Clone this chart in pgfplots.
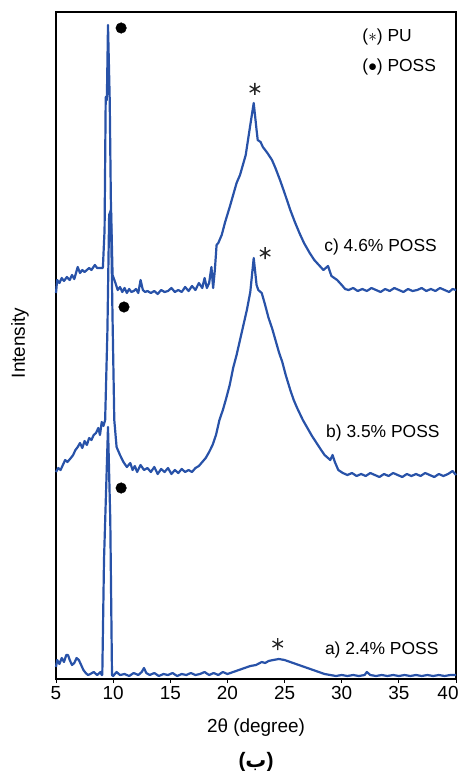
\documentclass[border=0pt]{standalone}
\usepackage{pgfplots}
\pgfplotsset{compat=1.18}
\usepackage{fontspec}
\setmainfont{Liberation Sans}
\newfontfamily\arabicfont[Script=Arabic]{DejaVu Sans Bold}
\definecolor{xrd}{RGB}{40,82,168}
\newcommand{\lbl}{\fontsize{17.5}{20}\selectfont}
\newcommand{\tlbl}{\fontsize{19}{22}\selectfont}
\begin{document}
\begin{tikzpicture}
\begin{axis}[
 scale only axis, width=400bp, height=667bp,
 xmin=5, xmax=40, ymin=12, ymax=679, y dir=reverse,
 xtick={5,10,...,35}, ytick=\empty,
 extra x ticks={40},
 extra x tick style={xticklabel style={xshift=-8bp}},
 xtick pos=bottom, tick align=outside, major tick length=4bp,
 axis line style={line width=1.3bp, black},
 every tick/.style={black, line width=1bp},
 ticklabel style={font=\tlbl},
 /pgf/number format/assume math mode=true,
 clip=false,
]
% curve c (4.6% POSS), y = pixel row
\addplot[xrd, line width=2.2bp, line join=round] coordinates {
(5.0,293)(5.1,280)(5.3,283)(5.5,278)(5.7,281)(5.95,277)(6.2,280)(6.4,275)(6.6,279)(6.9,267)
(7.1,273)(7.3,270)(7.5,272)(7.7,270)(7.9,268)(8.1,270)(8.4,265)(8.6,268)(8.8,268)(9.1,268)
(9.25,230)(9.35,97)(9.45,100)(9.55,25)(9.7,100)(9.8,200)(9.95,275)(10.2,283)(10.4,290)(10.6,287)
(10.8,292)(11.0,288)(11.2,293)(11.4,289)(11.6,292)(11.8,291)(12.0,289)(12.2,293)(12.4,280)(12.6,290)
(12.8,292)(13.0,291)(13.3,293)(13.6,291)(13.9,294)(14.2,290)(14.5,292)(14.8,291)(15.1,288)(15.4,292)
(15.7,290)(16.0,292)(16.3,287)(16.6,291)(16.9,286)(17.2,290)(17.5,283)(17.8,288)(18.0,278)(18.2,288)
(18.4,283)(18.6,267)(18.75,288)(18.9,270)(19.05,245)(19.2,243)(19.5,235)(19.8,222)(20.2,207)(20.5,195)
(20.8,183)(21.1,175)(21.4,163)(21.6,155)(21.8,140)(22.0,125)(22.3,103)(22.55,130)(22.65,140)(22.9,142)
(23.1,147)(23.5,153)(23.9,160)(24.2,168)(24.6,180)(25.0,193)(25.5,210)(25.9,222)(26.3,233)(26.7,243)
(27.2,253)(27.6,260)(28.0,265)(28.4,270)(28.8,266)(29.1,276)(29.6,280)(30.0,285)(30.3,289)(30.6,290)
(31.0,288)(31.4,291)(31.8,289)(32.2,291)(32.6,288)(33.0,290)(33.4,292)(33.8,289)(34.2,291)(34.6,288)
(35.0,290)(35.4,292)(35.8,289)(36.2,291)(36.6,290)(37.0,288)(37.4,291)(37.8,289)(38.2,291)(38.6,288)
(39.0,290)(39.4,292)(39.7,289)(40.0,290)
};
% curve b (3.5% POSS)
\addplot[xrd, line width=2.2bp, line join=round] coordinates {
(5.0,472)(5.2,468)(5.4,470)(5.6,465)(5.8,460)(6.0,462)(6.3,458)(6.5,455)(6.7,450)(6.9,447)
(7.1,443)(7.3,448)(7.5,441)(7.7,445)(7.9,438)(8.1,440)(8.3,435)(8.5,433)(8.7,428)(8.85,435)
(9.0,422)(9.15,426)(9.3,420)(9.5,330)(9.65,215)(9.8,210)(9.95,320)(10.1,420)(10.3,447)(10.6,455)
(10.9,462)(11.2,467)(11.5,463)(11.7,470)(11.9,466)(12.1,472)(12.4,465)(12.7,470)(13.0,468)(13.3,472)
(13.6,467)(13.9,474)(14.2,469)(14.5,472)(14.8,468)(15.1,474)(15.4,470)(15.7,473)(16.0,469)(16.3,472)
(16.6,470)(16.9,472)(17.2,468)(17.5,466)(17.8,462)(18.1,458)(18.4,452)(18.7,445)(19.0,435)(19.3,420)
(19.6,410)(19.9,398)(20.2,385)(20.5,368)(20.8,355)(21.1,340)(21.4,325)(21.7,310)(22.0,292)(22.3,258)
(22.55,285)(22.7,290)(23.0,293)(23.3,305)(23.6,318)(23.9,328)(24.2,340)(24.5,352)(24.8,362)(25.1,375)
(25.5,390)(25.8,400)(26.1,408)(26.6,420)(27.0,428)(27.4,436)(27.8,443)(28.2,450)(28.5,455)(28.7,457)
(29.0,460)(29.2,455)(29.4,462)(29.7,470)(30.1,473)(30.5,475)(30.9,473)(31.3,476)(31.7,474)(32.1,476)
(32.5,473)(32.9,475)(33.3,477)(33.7,474)(34.1,476)(34.5,473)(34.9,475)(35.3,477)(35.7,474)(36.1,476)
(36.5,474)(36.9,476)(37.3,473)(37.7,475)(38.1,477)(38.5,474)(38.9,476)(39.3,474)(39.7,471)(40.0,475)
};
% curve a (2.4% POSS)
\addplot[xrd, line width=2.2bp, line join=round] coordinates {
(5.0,667)(5.1,660)(5.3,664)(5.5,658)(5.7,662)(5.9,655)(6.05,655)(6.2,660)(6.4,665)(6.6,663)
(6.8,658)(7.0,660)(7.2,665)(7.4,670)(7.6,673)(7.8,675)(8.0,674)(8.3,672)(8.6,675)(8.9,672)
(9.0,675)(9.05,675)(9.2,560)(9.55,427)(9.75,520)(9.9,675)(10.0,676)(10.3,672)(10.6,675)(11.0,674)
(11.4,676)(11.8,673)(12.2,675)(12.5,672)(12.7,668)(12.9,673)(13.2,675)(13.6,673)(14.0,676)(14.4,674)
(14.8,675)(15.2,673)(15.6,676)(16.0,674)(16.4,675)(16.8,673)(17.2,675)(17.6,674)(18.0,672)(18.4,675)
(18.8,673)(19.2,675)(19.6,672)(20.0,674)(20.5,672)(21.0,670)(21.5,668)(22.0,666)(22.5,665)(23.0,662)
(23.3,663)(23.6,661)(24.0,660)(24.5,659)(25.0,660)(25.5,662)(26.0,664)(26.5,666)(27.0,668)(27.5,670)
(28.0,672)(28.5,674)(29.0,675)(29.5,676)(30.0,675)(30.5,676)(31.0,675)(31.5,676)(32.0,675)(32.2,672)
(32.5,675)(33.0,676)(33.5,675)(34.0,676)(34.5,675)(35.0,676)(35.5,675)(36.0,676)(36.5,675)(37.0,676)
(37.5,675)(38.0,676)(38.5,675)(39.0,676)(39.5,675)(40.0,675)
};
% POSS markers
\addplot[only marks, mark=*, mark size=5.3bp, black] coordinates {(10.7,28)(10.95,307)(10.7,488)};
% PU markers
\addplot[only marks, mark=asterisk, mark size=6bp, black!85, mark options={line width=1.3bp}] coordinates {(22.4,89)(23.3,253)(24.4,644)};
% sample labels
\node[font=\lbl] at (axis cs:33.4,247) {c) 4.6\% POSS};
\node[font=\lbl] at (axis cs:33.6,433) {b) 3.5\% POSS};
\node[font=\lbl] at (axis cs:33.5,650) {a) 2.4\% POSS};
% key
\node[font=\lbl, anchor=west, inner sep=0pt] at (axis cs:31.8,37) {($\ast$) PU};
\node[font=\lbl, anchor=west, inner sep=0pt] at (axis cs:31.8,67) {($\bullet$) POSS};
\end{axis}
\node[font=\tlbl] at (200bp,-49bp) {2θ (degree)};
\node[font=\tlbl, rotate=90] at (-36bp,336bp) {Intensity};
\node[font=\fontsize{21}{24}\selectfont\bfseries] at (200bp,-83bp) {({\arabicfont ب})};
\pgfresetboundingbox
\path[use as bounding box] (-56bp,-92bp) rectangle (403bp,679bp);
\end{tikzpicture}
\end{document}
